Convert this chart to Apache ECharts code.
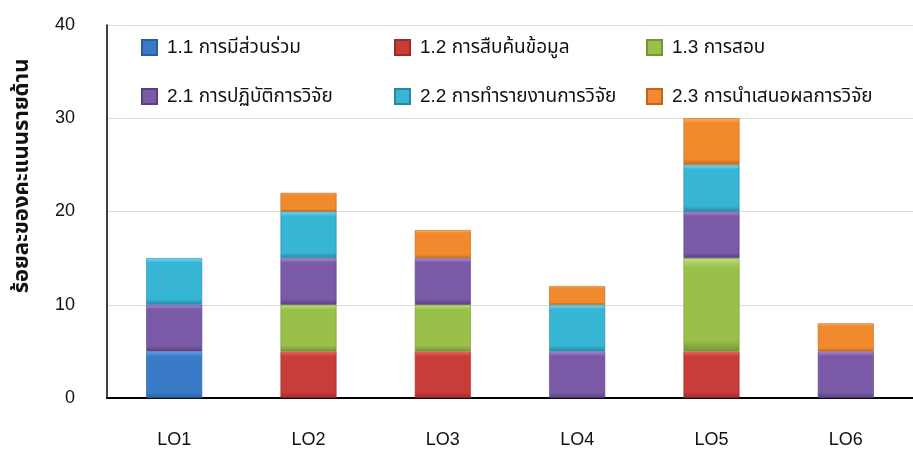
<!DOCTYPE html>
<html><head><meta charset="utf-8">
<script src="https://cdn.jsdelivr.net/npm/echarts@6/dist/echarts.min.js"></script>
<style>html,body{margin:0;padding:0;background:#fff}#c{width:913px;height:449px}</style>
</head><body><div id="c"></div>
<script>
var categories = ['LO1','LO2','LO3','LO4','LO5','LO6'];
var seriesNames = ['1.1 การมีส่วนร่วม','1.2 การสืบค้นข้อมูล','1.3 การสอบ','2.1 การปฏิบัติการวิจัย','2.2 การทำรายงานการวิจัย','2.3 การนำเสนอผลการวิจัย'];
var s11 = [5, 0, 0, 0, 0, 0];
var s12 = [0, 5, 5, 0, 5, 0];
var s13 = [0, 5, 5, 0, 10, 0];
var s21 = [5, 5, 5, 5, 5, 5];
var s22 = [5, 5, 0, 5, 5, 0];
var s23 = [0, 2, 3, 2, 5, 3];
var yTicks = [0, 10, 20, 30, 40];
var yTitle = 'ร้อยละของคะแนนรายด้าน';

var seriesValues = [s11, s12, s13, s21, s22, s23];
var palette = [
  ['#6aa6e8','#3a7bc8','#2a5f9e'],
  ['#ee6f6a','#c83d3a','#9a2c2a'],
  ['#c3e07a','#98c04a','#769634'],
  ['#b08ad8','#7a5aa6','#5a4080'],
  ['#72dcf4','#37b5d4','#2689a3'],
  ['#ffb566','#f18a2c','#c0661a']
];
var FONT = '"Liberation Sans","Noto Sans Thai","Noto Sans",sans-serif';
function grad(p){
  return new echarts.graphic.LinearGradient(0,0,0,1,[
    {offset:0,color:p[0]},{offset:0.1,color:p[1]},{offset:0.88,color:p[1]},{offset:1,color:p[2]}
  ]);
}
var series = seriesNames.map(function(n,i){
  return {name:n,type:'bar',stack:'a',barWidth:56,
    data:seriesValues[i].map(function(v){return v===0?null:v;}),
    itemStyle:{color:grad(palette[i]),borderColor:palette[i][2],borderWidth:0.6}};
});
var legendPos = [[141,38],[394,38],[646,38],[141,87],[394,87],[646,87]];
var legends = seriesNames.map(function(n,i){
  return {data:[{name:n,icon:'rect'}],left:legendPos[i][0],top:legendPos[i][1],padding:0,itemWidth:15,itemHeight:15,itemGap:0,
    textStyle:{fontFamily:FONT,fontSize:19,color:'#111',padding:[0,0,0,5]},selectedMode:false};
});
var chart = echarts.init(document.getElementById('c'));
chart.setOption({
  animation:false,
  legend:legends,
  grid:{left:107,top:25,width:817,height:373,containLabel:false},
  xAxis:{type:'category',data:categories,
    axisLine:{lineStyle:{color:'#000',width:2}},axisTick:{show:false},
    axisLabel:{margin:33,fontFamily:FONT,fontSize:18,color:'#111'}},
  yAxis:{type:'value',min:yTicks[0],max:yTicks[yTicks.length-1],interval:10,
    axisLine:{show:true,lineStyle:{color:'#000',width:1.5}},axisTick:{show:false},
    splitLine:{lineStyle:{color:'#dcdcdc',width:1}},
    axisLabel:{margin:32,fontFamily:FONT,fontSize:18,color:'#111'}},
  graphic:[{type:'text',x:22,y:176,rotation:Math.PI/2,
    style:{text:yTitle,fontFamily:FONT,fontSize:22,fontWeight:'bold',fill:'#111',align:'center',verticalAlign:'middle'}}],
  series:series
});
</script></body></html>
